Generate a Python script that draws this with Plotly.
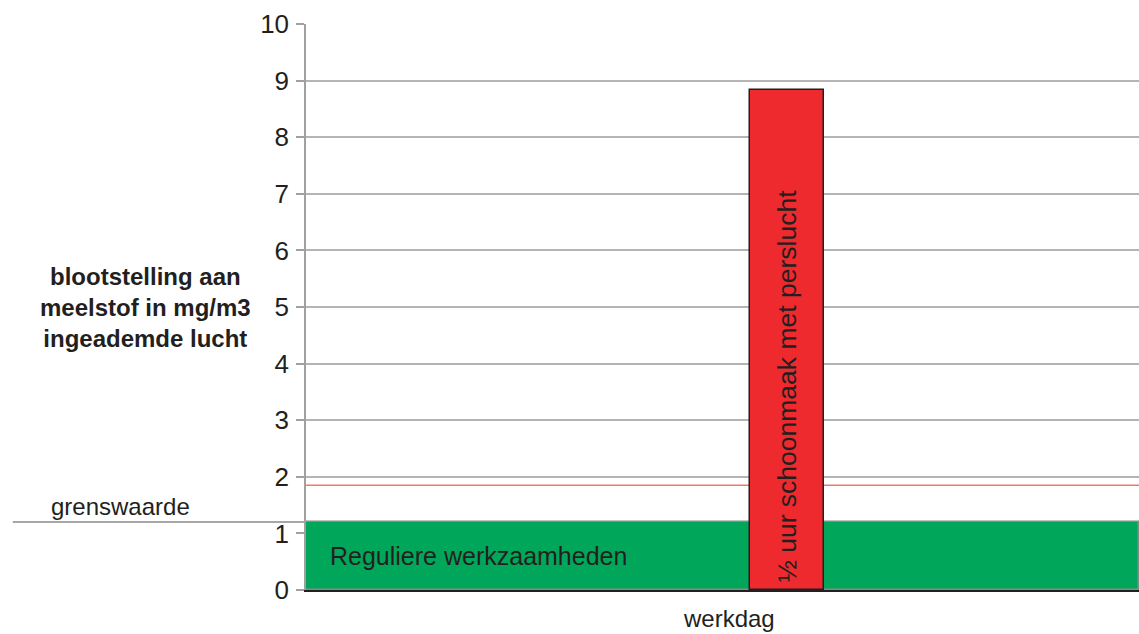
import plotly.graph_objects as go

# ---- data ----
bar_labels = ["Reguliere werkzaamheden", "½ uur schoonmaak met perslucht"]
bar_values = [1.2, 8.84]
grenswaarde = 1.2
red_line_value = 1.85
y_ticks = list(range(0, 11))
y_title_lines = ["blootstelling aan", "meelstof in mg/m3", "ingeademde lucht"]
x_title = "werkdag"
grens_label = "grenswaarde"

# ---- layout constants ----
TXT = "#231F20"
FONT = "Liberation Sans"
green = "#00A65A"
red = "#EE2A2E"

fig = go.Figure()

# green background bar spanning the whole day
fig.add_trace(go.Bar(
    x=[0.5], y=[bar_values[0]], width=[1.0],
    marker=dict(color=green, line=dict(color="#8A8A8A", width=1.5)),
    hoverinfo="skip", showlegend=False,
))
# red half-hour cleaning bar
fig.add_trace(go.Bar(
    x=[0.5774], y=[bar_values[1]], width=[0.0892],
    marker=dict(color=red, line=dict(color=TXT, width=1.5)),
    hoverinfo="skip", showlegend=False,
))

fig.update_layout(
    width=1139, height=634,
    margin=dict(l=306, r=0, t=24, b=44),
    paper_bgcolor="white", plot_bgcolor="white",
    barmode="overlay", bargap=0,
    font=dict(family=FONT, color=TXT),
    xaxis=dict(range=[0, 1], showticklabels=False, ticks="", showgrid=False,
               zeroline=False, showline=True, linecolor=TXT, linewidth=1.5),
    yaxis=dict(range=[0, 10], tickvals=y_ticks, ticktext=[str(v) for v in y_ticks],
               ticks="outside", ticklen=8, tickcolor="#A0A0A0", tickwidth=1.5,
               ticklabelstandoff=2,
               tickfont=dict(size=26, color=TXT, family=FONT),
               showgrid=True, gridcolor="#B4B4B4", gridwidth=1.5,
               zeroline=False, showline=True, linecolor="#A0A0A0", linewidth=1.5),
)

# grenswaarde line extending left past the axis
fig.add_shape(type="line", xref="paper", yref="y", x0=-0.352, x1=1,
              y0=grenswaarde, y1=grenswaarde,
              line=dict(color="#8A8A8A", width=1.5), layer="below")
# thin red line
fig.add_shape(type="line", xref="paper", yref="y", x0=0, x1=1,
              y0=red_line_value, y1=red_line_value,
              line=dict(color="#F07A68", width=1.5), layer="below")

# y-axis title (horizontal, left)
fig.add_annotation(text="<br>".join(y_title_lines), xref="paper", yref="y",
                   x=-0.193, y=5, xanchor="center", yanchor="middle",
                   showarrow=False, align="center",
                   font=dict(size=24, color=TXT, family=FONT, weight="bold"))
# grenswaarde label
fig.add_annotation(text=grens_label, xref="paper", yref="y",
                   x=-0.309, y=grenswaarde, xanchor="left", yanchor="bottom", yshift=0,
                   showarrow=False, font=dict(size=24, color=TXT, family=FONT))
# label inside green bar
fig.add_annotation(text=bar_labels[0], xref="x", yref="y",
                   x=0.027, y=bar_values[0] / 2, xanchor="left", yanchor="middle",
                   showarrow=False, font=dict(size=25, color=TXT, family=FONT))
# rotated label inside red bar
fig.add_annotation(text=bar_labels[1], xref="x", yref="y",
                   x=0.5774, y=0.1, xanchor="center", yanchor="bottom",
                   textangle=-90, showarrow=False,
                   font=dict(size=26.5, color=TXT, family=FONT))
# x-axis title
fig.add_annotation(text=x_title, xref="paper", yref="paper",
                   x=0.5075, y=-0.0777, xanchor="center", yanchor="bottom",
                   showarrow=False, font=dict(size=24, color=TXT, family=FONT))

fig.write_html("out.html")
